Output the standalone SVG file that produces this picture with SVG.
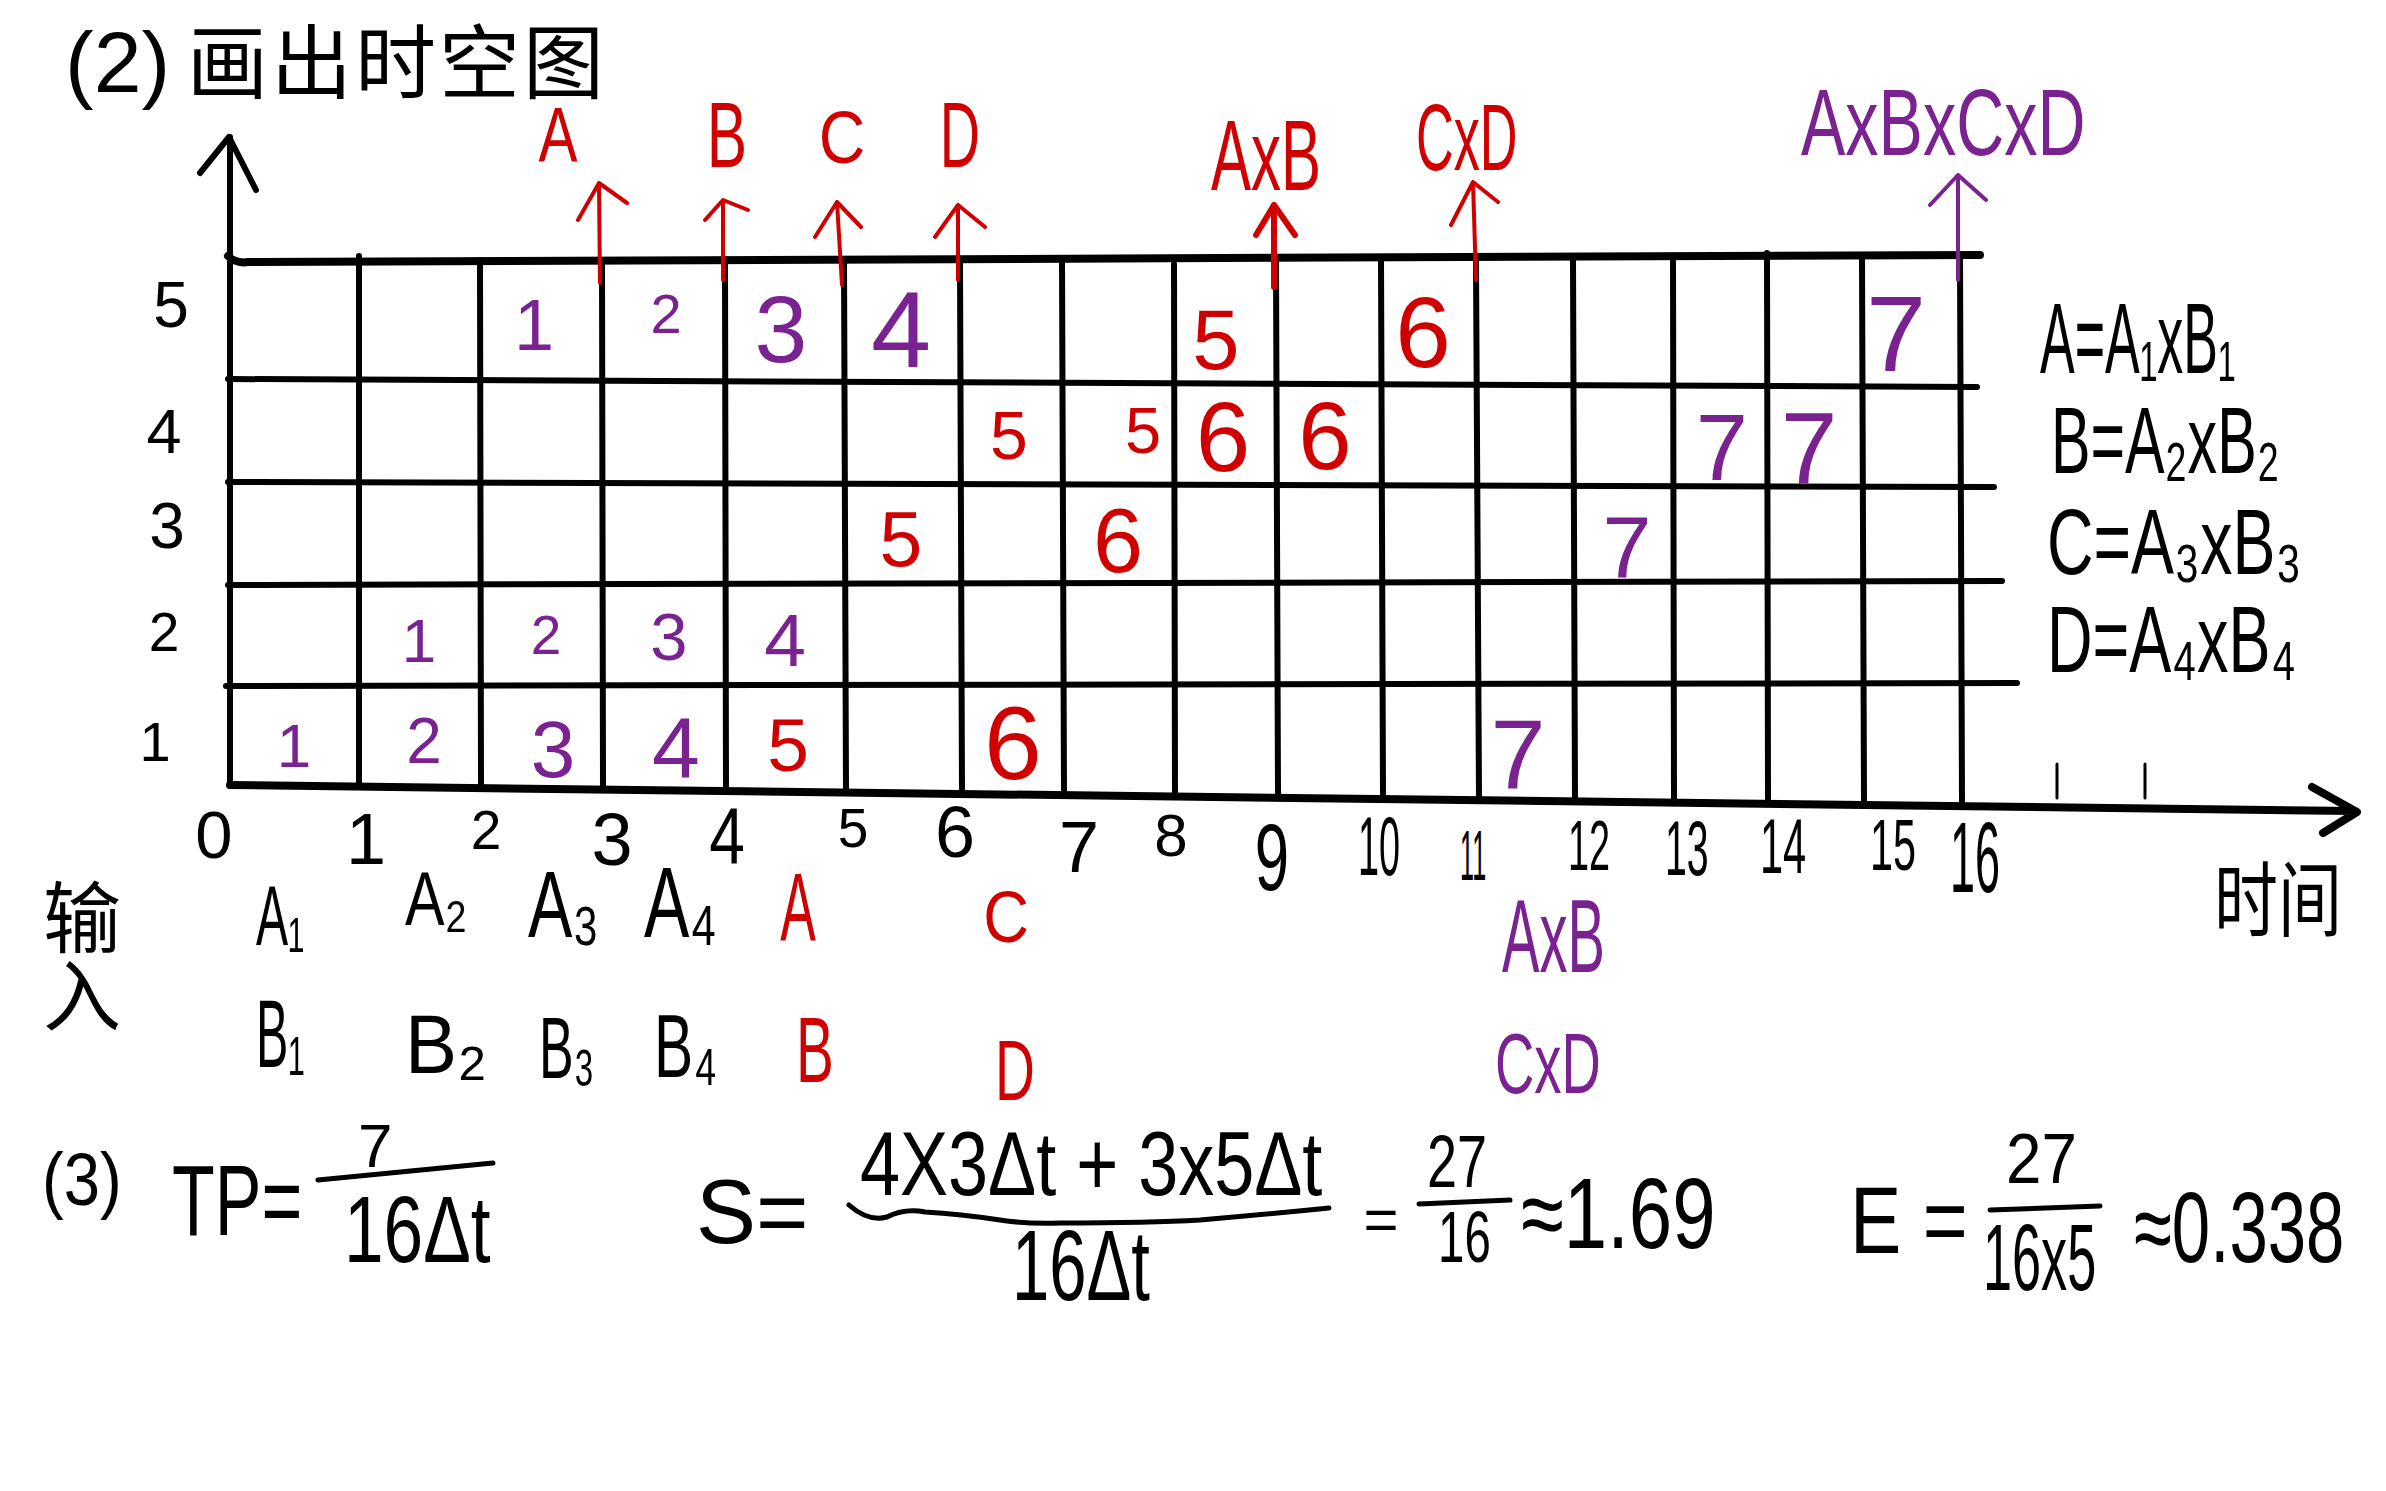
<svg xmlns="http://www.w3.org/2000/svg" width="2386" height="1491" viewBox="0 0 2386 1491">
<style>
.bk{stroke:#000;fill:none;stroke-linecap:round;stroke-linejoin:round}
.g{stroke-width:6}
.rs{stroke:#d00000;fill:none;stroke-width:4;stroke-linecap:round;stroke-linejoin:round}
.ps{stroke:#7a2390;fill:none;stroke-width:4;stroke-linecap:round;stroke-linejoin:round}
text{font-family:"Liberation Sans",Arial,sans-serif}
.cjk{font-family:"Noto Sans CJK SC",sans-serif}
.k{fill:#000}
.r{fill:#d00000}
.p{fill:#7a2390}
.m{text-anchor:middle}
</style>
<rect width="2386" height="1491" fill="#fff"/>

<g id="title">
<text class="k" x="65" y="92" font-size="86">(2)</text>
<text class="k cjk" x="187" y="92" font-size="81" letter-spacing="3">画出时空图</text>
</g>

<g id="grid">
<path class="bk g" style="stroke-width:8" d="M228,256 Q236,264 248,262 L1980,255"/>
<path class="bk g" d="M228,379 L1977,387"/>
<path class="bk g" d="M228,482 L1994,487"/>
<path class="bk g" d="M228,585 L2002,581"/>
<path class="bk g" d="M226,686 L2017,683"/>
<path class="bk g" d="M359,256 L359,786 M480,260 L481,787 M602,262 L603,788 M725,260 L726,789 M844,260 L846,790 M960,262 L962,791 M1062,260 L1064,792 M1174,264 L1175,794 M1276,262 L1278,795 M1381,258 L1383,796 M1476,262 L1479,797 M1573,258 L1575,798 M1673,258 L1674,799 M1767,253 L1768,800 M1862,258 L1864,801 M1960,256 L1962,802"/>
<path class="bk" stroke-width="3" d="M2057,764 L2057,798 M2145,764 L2145,798"/>
</g>

<g id="axes">
<path class="bk" stroke-width="6" d="M230,786 L230,137 M200,173 L229,137 L256,190"/>
<path class="bk" stroke-width="8" d="M230,785 L2355,811 M2312,787 L2357,812 L2323,833"/>
<text class="k m" x="171" y="327" font-size="64">5</text>
<text class="k m" x="164" y="453" font-size="63">4</text>
<text class="k m" x="167" y="548" font-size="64">3</text>
<text class="k m" x="164" y="651" font-size="55">2</text>
<text class="k m" x="155" y="761" font-size="56">1</text>
<text class="k m" x="214" y="858" font-size="67">0</text>
<text class="k m" x="366" y="864" font-size="72">1</text>
<text class="k m" x="486" y="849" font-size="55">2</text>
<text class="k m" x="612" y="865" font-size="74">3</text>
<text class="k m" transform="translate(727,863) scale(0.8,1)" font-size="80">4</text>
<text class="k m" x="853" y="847" font-size="55">5</text>
<text class="k m" x="955" y="857" font-size="72">6</text>
<text class="k m" x="1079" y="872" font-size="72">7</text>
<text class="k m" x="1171" y="856" font-size="60">8</text>
<text class="k m" transform="translate(1272,890) scale(0.65,1)" font-size="95">9</text>
<text class="k" transform="translate(1358,875) scale(0.45,1)" font-size="84">10</text>
<text class="k" transform="translate(1460,880) scale(0.36,1)" font-size="70">11</text>
<text class="k" transform="translate(1568,870) scale(0.54,1)" font-size="70">12</text>
<text class="k" transform="translate(1665,875) scale(0.51,1)" font-size="77">13</text>
<text class="k" transform="translate(1760,873) scale(0.54,1)" font-size="77">14</text>
<text class="k" transform="translate(1870,870) scale(0.575,1)" font-size="72">15</text>
<text class="k" transform="translate(1950,892) scale(0.45,1)" font-size="100">16</text>
<text class="k cjk" transform="translate(2214,930) scale(0.78,1)" font-size="82">时间</text>
</g>

<g id="outputs">
<path class="rs" d="M600,283 L599,183 M578,220 L599,183 L627,203"/>
<path class="rs" d="M723,280 L723,200 M705,220 L723,200 L748,210"/>
<path class="rs" d="M842,285 L837,202 M815,237 L837,202 L861,227"/>
<path class="rs" d="M958,280 L958,205 M935,237 L958,205 L985,227"/>
<path class="rs" style="stroke-width:6" d="M1274,287 L1274,205 M1256,235 L1274,205 L1295,235"/>
<path class="rs" d="M1476,280 L1473,182 M1451,225 L1473,182 L1498,202"/>
<path class="ps" d="M1958,280 L1958,175 M1930,205 L1958,175 L1986,200"/>
<text class="r m" transform="translate(558,162) scale(0.75,1)" font-size="78">A</text>
<text class="r m" transform="translate(727,167) scale(0.65,1)" font-size="93">B</text>
<text class="r m" transform="translate(842,163) scale(0.87,1)" font-size="74">C</text>
<text class="r m" transform="translate(960,167) scale(0.6,1)" font-size="93">D</text>
<text class="r" transform="translate(1211,190) scale(0.6,1)" font-size="100">AxB</text>
<text class="r" transform="translate(1416,170) scale(0.55,1)" font-size="95">CxD</text>
<text class="p" transform="translate(1801,155) scale(0.7,1)" font-size="95">AxBxCxD</text>
</g>

<g id="cells">
<text class="p m" x="534" y="350" font-size="72">1</text>
<text class="p m" x="666" y="333" font-size="56">2</text>
<text class="p m" x="781" y="362" font-size="95">3</text>
<text class="p m" x="901" y="367" font-size="108">4</text>
<text class="r m" x="1216" y="369" font-size="85">5</text>
<text class="r m" x="1423" y="367" font-size="100">6</text>
<text class="p m" x="1896" y="371" font-size="108">7</text>

<text class="r m" x="1009" y="459" font-size="68">5</text>
<text class="r m" x="1143" y="453" font-size="65">5</text>
<text class="r m" x="1223" y="471" font-size="98">6</text>
<text class="r m" x="1325" y="469" font-size="96">6</text>
<text class="p m" x="1722" y="480" font-size="94">7</text>
<text class="p m" x="1809" y="484" font-size="102">7</text>

<text class="r m" x="901" y="566" font-size="77">5</text>
<text class="r m" x="1118" y="572" font-size="90">6</text>
<text class="p m" x="1627" y="578" font-size="88">7</text>

<text class="p m" x="419" y="662" font-size="62">1</text>
<text class="p m" x="546" y="654" font-size="55">2</text>
<text class="p m" x="669" y="660" font-size="67">3</text>
<text class="p m" x="785" y="666" font-size="75">4</text>

<text class="p m" x="294" y="767" font-size="62">1</text>
<text class="p m" x="424" y="763" font-size="64">2</text>
<text class="p m" x="553" y="777" font-size="80">3</text>
<text class="p m" x="676" y="777" font-size="86">4</text>
<text class="r m" x="788" y="771" font-size="75">5</text>
<text class="r m" x="1013" y="779" font-size="104">6</text>
<text class="p m" x="1518" y="788" font-size="99">7</text>
</g>

<g id="legend">
<text class="k" transform="translate(2040,373) scale(0.52,1)" font-size="100">A=A₁xB₁</text>
<text class="k" transform="translate(2051,473) scale(0.63,1)" font-size="94">B=A₂xB₂</text>
<text class="k" transform="translate(2047,574) scale(0.70,1)" font-size="92">C=A₃xB₃</text>
<text class="k" transform="translate(2047,672) scale(0.67,1)" font-size="94">D=A₄xB₄</text>
</g>

<g id="inputs">
<text class="k cjk" x="82" y="878" font-size="78" style="writing-mode:vertical-rl">输入</text>
<text class="k" transform="translate(256,945) scale(0.56,1)" font-size="86">A₁</text>
<text class="k" transform="translate(405,925) scale(0.78,1)" font-size="76">A₂</text>
<text class="k" transform="translate(528,937) scale(0.70,1)" font-size="95">A₃</text>
<text class="k" transform="translate(644,937) scale(0.68,1)" font-size="100">A₄</text>
<text class="r m" transform="translate(798,940) scale(0.55,1)" font-size="97">A</text>
<text class="r m" transform="translate(1006,942) scale(0.88,1)" font-size="72">C</text>
<text class="p" transform="translate(1502,972) scale(0.54,1)" font-size="104">AxB</text>
<text class="k" transform="translate(256,1067) scale(0.5,1)" font-size="97">B₁</text>
<text class="k" transform="translate(405,1073) scale(0.94,1)" font-size="83">B₂</text>
<text class="k" transform="translate(539,1078) scale(0.59,1)" font-size="88">B₃</text>
<text class="k" transform="translate(654,1077) scale(0.66,1)" font-size="89">B₄</text>
<text class="r m" transform="translate(815,1082) scale(0.61,1)" font-size="93">B</text>
<text class="r m" transform="translate(1015,1100) scale(0.65,1)" font-size="85">D</text>
<text class="p" transform="translate(1495,1093) scale(0.64,1)" font-size="85">CxD</text>
</g>

<g id="formulas">
<text class="k" transform="translate(42,1205) scale(0.87,1)" font-size="75">(3)</text>
<text class="k" transform="translate(172,1235) scale(0.7,1)" font-size="100">TP=</text>
<text class="k" x="358" y="1167" font-size="62">7</text>
<path class="bk" stroke-width="5" d="M318,1180 L493,1163"/>
<text class="k" transform="translate(344,1262) scale(0.75,1)" font-size="95">16Δt</text>

<text class="k" x="696" y="1243" font-size="90">S=</text>
<text class="k" transform="translate(860,1195) scale(0.8,1)" font-size="90">4X3Δt + 3x5Δt</text>
<path class="bk" stroke-width="5" d="M849,1205 Q868,1222 887,1217 Q905,1208 925,1212 Q960,1214 1000,1220 Q1025,1224 1060,1223 Q1150,1223 1200,1220 Q1270,1214 1329,1208"/>
<text class="k" transform="translate(1012,1300) scale(0.67,1)" font-size="100">16Δt</text>
<text class="k m" x="1381" y="1240" font-size="60">=</text>
<text class="k" transform="translate(1427,1187) scale(0.72,1)" font-size="75">27</text>
<path class="bk" stroke-width="5" d="M1419,1204 L1510,1200"/>
<text class="k" transform="translate(1438,1262) scale(0.65,1)" font-size="73">16</text>
<text class="k" transform="translate(1521,1248) scale(0.78,1)" font-size="100">≈1.69</text>

<text class="k" transform="translate(1850,1253) scale(0.81,1)" font-size="95">E =</text>
<text class="k" transform="translate(2006,1183) scale(0.91,1)" font-size="70">27</text>
<path class="bk" stroke-width="5" d="M1990,1210 L2100,1206"/>
<text class="k" transform="translate(1983,1290) scale(0.55,1)" font-size="95">16x5</text>
<text class="k" transform="translate(2134,1262) scale(0.69,1)" font-size="100">≈0.338</text>
</g>
</svg>
